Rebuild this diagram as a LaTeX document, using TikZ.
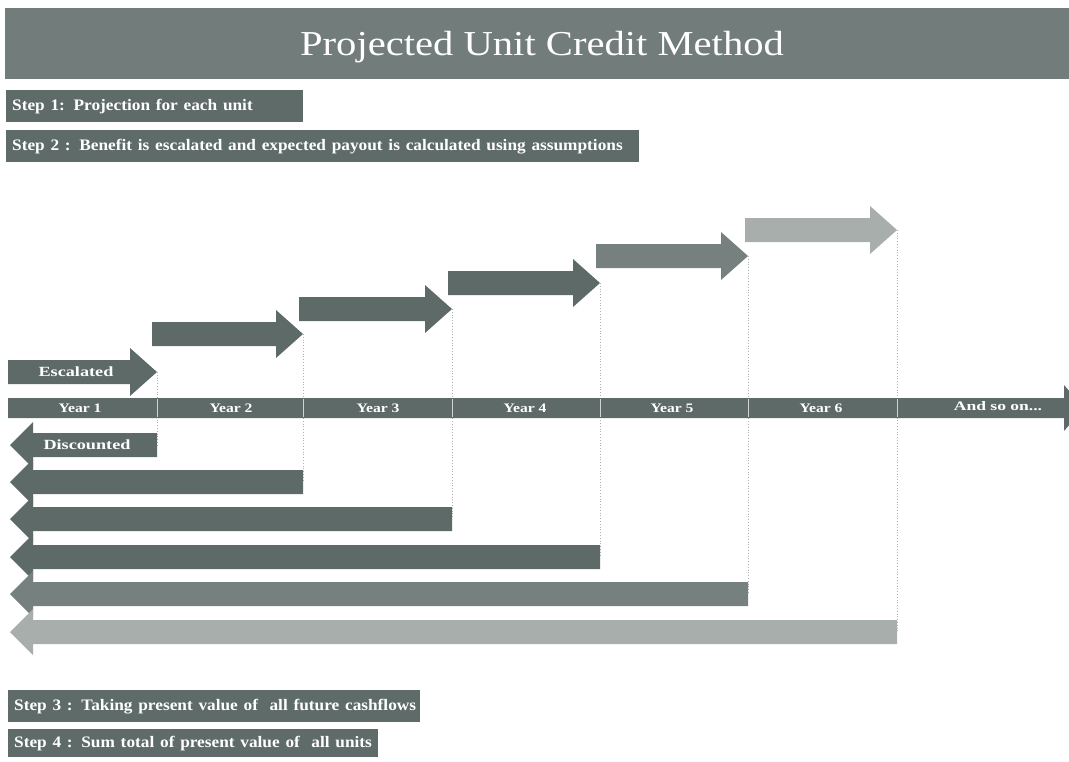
\documentclass[tikz,border=0pt]{standalone}
\usepackage{fontspec}
\setmainfont{Liberation Serif}
\definecolor{titlecol}{HTML}{727C7A}
\definecolor{stepcol}{HTML}{5F6B68}
\definecolor{darkarr}{HTML}{5E6A68}
\definecolor{midarr}{HTML}{76807E}
\definecolor{lightarr}{HTML}{A8AEAC}
\definecolor{dotcol}{HTML}{B0B0B0}
\newcommand\myX[2]{\scalebox{#1}[1]{#2}}
\newcommand\RArr[4]{% x1, xtip, yc, colour
  \fill[#4] (#1,#3-12) -- (#2-27,#3-12) -- (#2-27,#3-24) -- (#2,#3) -- (#2-27,#3+24) -- (#2-27,#3+12) -- (#1,#3+12) -- cycle;}
\newcommand\LArr[4]{% xtip, x2, yc, colour
  \fill[#4] (#2,#3-12) -- (#1+23,#3-12) -- (#1+23,#3-23) -- (#1,#3) -- (#1+23,#3+23) -- (#1+23,#3+12) -- (#2,#3+12) -- cycle;}
\begin{document}
\begin{tikzpicture}[x=1pt,y=-1pt,
  stepbox/.style={fill=stepcol, text=white, anchor=north west, inner xsep=6pt, inner ysep=0pt,
    font=\fontsize{16}{18}\selectfont\bfseries, align=left},
  yearlbl/.style={text=white, font=\fontsize{13}{15}\selectfont\bfseries},
  arrlbl/.style={text=white, font=\fontsize{14}{16}\selectfont\bfseries},
  guide/.style={dotcol, dotted, line width=0.8pt}]
\useasboundingbox (0,0) rectangle (1069,761);
\clip (0,0) rectangle (1069,761);
% title
\node[fill=titlecol, anchor=north west, minimum width=1064pt, minimum height=71pt, inner sep=0pt] (titlebar) at (5,8) {};
\node[text=white, font=\fontsize{35}{40}\selectfont, anchor=base] (title) at (542,55) {\myX{1.16}{Projected Unit Credit Method}};
% steps
\node[stepbox, text width=285pt, minimum height=32pt] (s1) at (6,90) {\myX{1.08}{Step 1: Projection for each unit}};
\node[stepbox, text width=621pt, minimum height=32pt] (s2) at (6,130) {\myX{1.08}{Step 2 : Benefit is escalated and expected payout is calculated using assumptions}};
\node[stepbox, text width=400pt, minimum height=32pt] (s3) at (8,690) {\myX{1.08}{Step 3 : Taking present value of \ all future cashflows}};
\node[stepbox, text width=358pt, minimum height=28pt] (s4) at (8,729) {\myX{1.08}{Step 4 : Sum total of present value of \ all units}};
% coordinates of escalated tips and discounted ends
\coordinate (e1) at (157,372); \coordinate (d1) at (157,445);
\coordinate (e2) at (303,334); \coordinate (d2) at (303,482);
\coordinate (e3) at (452,309); \coordinate (d3) at (452,519);
\coordinate (e4) at (600,283); \coordinate (d4) at (600,557);
\coordinate (e5) at (748,256); \coordinate (d5) at (748,594);
\coordinate (e6) at (897,230); \coordinate (d6) at (897,632);
% guides
\foreach \i in {1,...,6} {\draw[guide] (e\i) -- (d\i);}
% escalated arrows
\RArr{8}{157}{372}{darkarr}
\RArr{152}{303}{334}{darkarr}
\RArr{299}{452}{309}{darkarr}
\RArr{448}{600}{283}{darkarr}
\RArr{596}{748}{256}{midarr}
\RArr{745}{897}{230}{lightarr}
\node[arrlbl] (esc) at (76,372) {\myX{1.3}{Escalated}};
% timeline
\fill[darkarr] (8,398) -- (1064,398) -- (1064,385) -- (1084,408) -- (1064,431) -- (1064,418) -- (8,418) -- cycle;
\foreach \x in {157,303,452,600,748,897} {\draw[white!70!darkarr, line width=0.4pt] (\x,399) -- (\x,417);}
\node[yearlbl] (y1) at (80,408) {\myX{1.2}{Year 1}};
\node[yearlbl] (y2) at (231,408) {\myX{1.2}{Year 2}};
\node[yearlbl] (y3) at (378,408) {\myX{1.2}{Year 3}};
\node[yearlbl] (y4) at (525,408) {\myX{1.2}{Year 4}};
\node[yearlbl] (y5) at (672,408) {\myX{1.2}{Year 5}};
\node[yearlbl] (y6) at (821,408) {\myX{1.2}{Year 6}};
\node[yearlbl] (y7) at (998,406) {\myX{1.35}{And so on...}};
% discounted arrows
\LArr{10}{157}{445}{darkarr}
\LArr{10}{303}{482}{darkarr}
\LArr{10}{452}{519}{darkarr}
\LArr{10}{600}{557}{darkarr}
\LArr{10}{748}{594}{midarr}
\LArr{10}{897}{632}{lightarr}
\node[arrlbl] (disc) at (87,445) {\myX{1.3}{Discounted}};
\end{tikzpicture}
\end{document}
